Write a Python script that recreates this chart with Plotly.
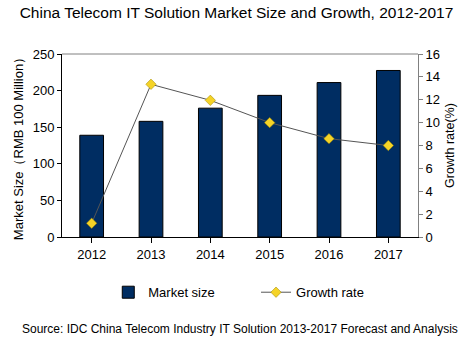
import plotly.graph_objects as go

years = ["2012", "2013", "2014", "2015", "2016", "2017"]
market_size = [139, 158, 176, 193.5, 211, 227.5]
growth_rate = [1.2, 13.35, 11.95, 10.0, 8.6, 8.0]

FONT = "Liberation Sans, Arial, sans-serif"

fig = go.Figure()
fig.add_trace(go.Bar(
    x=years, y=market_size, name="Market size",
    marker=dict(color="#002d62", line=dict(color="#000000", width=1)),
    yaxis="y", legend="legend",
))
fig.add_trace(go.Scatter(
    x=years, y=growth_rate, name="Growth rate", mode="lines+markers",
    line=dict(color="#555555", width=1),
    marker=dict(symbol="diamond", size=8, color="#f5d327", line=dict(color="#9a8400", width=0.5)),
    yaxis="y2", legend="legend2",
))

fig.update_layout(
    width=473, height=350,
    margin=dict(l=62, r=55, t=54, b=113),
    paper_bgcolor="white", plot_bgcolor="white",
    font=dict(family=FONT, size=13, color="#000000"),
    bargap=0.6,
    showlegend=True,
    legend=dict(orientation="h", x=0.13, xanchor="left", y=-0.22, yanchor="top",
                font=dict(size=13), itemwidth=30, bgcolor="rgba(0,0,0,0)"),
    legend2=dict(orientation="h", x=0.545, xanchor="left", y=-0.22, yanchor="top",
                 font=dict(size=13), itemwidth=30, bgcolor="rgba(0,0,0,0)"),
    title=dict(text="China Telecom IT Solution Market Size and Growth, 2012-2017",
               x=0.5, xanchor="center", y=0.965, yanchor="middle",
               font=dict(size=15.5, family=FONT)),
    xaxis=dict(showline=True, linecolor="#000000", linewidth=1, ticks="outside",
               ticklen=5, tickcolor="#000000", showgrid=False,
               tickfont=dict(size=13)),
    yaxis=dict(range=[0, 250], dtick=50, showline=True, linecolor="#000000",
               linewidth=1, ticks="outside", ticklen=4, tickcolor="#000000",
               showgrid=False, zeroline=False,
               title=dict(text="Market Size\uff08RMB 100 Million\uff09", font=dict(size=13), standoff=6),
               tickfont=dict(size=13)),
    yaxis2=dict(range=[0, 16], dtick=2, overlaying="y", side="right", showline=True,
                linecolor="#808080", linewidth=1, ticks="outside", ticklen=4,
                tickcolor="#808080", showgrid=False, zeroline=False,
                title=dict(text="Growth rate(%)", font=dict(size=12.5), standoff=6),
                tickfont=dict(size=13)),
    shapes=[dict(type="line", xref="paper", yref="paper", x0=0, x1=1, y0=1, y1=1,
                 line=dict(color="#808080", width=1))],
    annotations=[dict(text="Source: IDC China Telecom Industry IT Solution 2013-2017 Forecast and Analysis",
                      xref="paper", yref="paper", x=0.5, xanchor="center",
                      y=-0.5, yanchor="middle", showarrow=False,
                      font=dict(size=12, family=FONT))],
)

fig.write_html("out.html")
